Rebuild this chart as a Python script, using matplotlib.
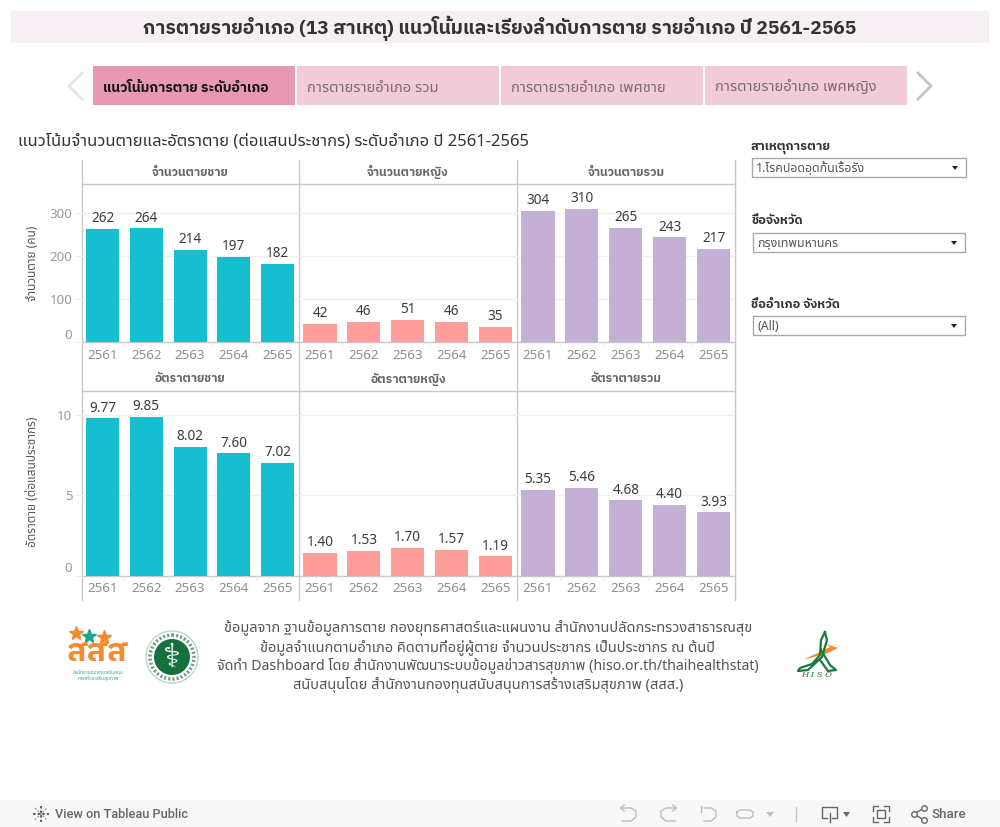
import matplotlib
matplotlib.use('Agg')
import matplotlib.pyplot as plt
from matplotlib.patches import Rectangle, Circle, Polygon

REGULAR = ['Noto Sans Thai', 'Noto Sans', 'DejaVu Sans']
BOLD = ['IBM Plex Sans Thai', 'DejaVu Sans']
plt.rcParams['font.family'] = REGULAR

years = ['2561', '2562', '2563', '2564', '2565']
male_deaths = [262, 264, 214, 197, 182]
female_deaths = [42, 46, 51, 46, 35]
total_deaths = [304, 310, 265, 243, 217]
male_rate = [9.77, 9.85, 8.02, 7.60, 7.02]
female_rate = [1.40, 1.53, 1.70, 1.57, 1.19]
total_rate = [5.35, 5.46, 4.68, 4.40, 3.93]

top_headers = ['จำนวนตายชาย', 'จำนวนตายหญิง', 'จำนวนตายรวม']
bottom_headers = ['อัตราตายชาย', 'อัตราตายหญิง', 'อัตราตายรวม']
tabs = ['แนวโน้มการตาย ระดับอำเภอ', 'การตายรายอำเภอ รวม', 'การตายรายอำเภอ เพศชาย', 'การตายรายอำเภอ เพศหญิง']
footer = ['ข้อมูลจาก ฐานข้อมูลการตาย กองยุทธศาสตร์และแผนงาน สำนักงานปลัดกระทรวงสาธารณสุข',
          'ข้อมูลจำแนกตามอำเภอ คิดตามที่อยู่ผู้ตาย จำนวนประชากร เป็นประชากร ณ ต้นปี',
          'จัดทำ Dashboard โดย สำนักงานพัฒนาระบบข้อมูลข่าวสารสุขภาพ (hiso.or.th/thaihealthstat)',
          'สนับสนุนโดย สำนักงานกองทุนสนับสนุนการสร้างเสริมสุขภาพ (สสส.)']
footer_sizes = [10.5, 10.5, 10.2, 10.5]

TEAL = '#17becf'
PINK = '#ff9d9a'
PURPLE = '#c4afd5'
LINE = '#c8c8c8'

W = 1000
H = 827
fig = plt.figure(figsize=(W / 100, H / 100), dpi=100)

# page furniture, in pixels
bg = fig.add_axes([0, 0, 1, 1])
bg.set_xlim(0, W)
bg.set_ylim(H, 0)
bg.axis('off')


def box(x0, y0, x1, y1, color, edge='none'):
    bg.add_patch(Rectangle((x0, y0), x1 - x0, y1 - y0, fc=color, ec=edge, lw=1))


def panel(x0, x1, y0, y1, values, ymax, yticks, color, fmt, show_y):
    ax = fig.add_axes([x0 / W, 1 - y1 / H, (x1 - x0) / W, (y1 - y0) / H])
    ax.patch.set_alpha(0)
    ax.bar(range(5), values, width=0.755, color=color, zorder=3)
    ax.set_xlim(-0.48, 4.49)
    ax.set_ylim(0, ymax)
    for s in ax.spines.values():
        s.set_visible(False)
    ax.set_yticks(yticks)
    ax.grid(axis='y', color='#f0f0f0', lw=1, zorder=0)
    ax.set_axisbelow(True)
    ax.set_xticks(range(5), years, fontsize=9.6, color='#8f8f8f')
    ax.set_xticks([0.5, 1.5, 2.5, 3.5], minor=True)
    ax.tick_params(axis='x', which='major', length=0, pad=5)
    ax.tick_params(axis='x', which='minor', length=3, color='#ececec')
    if show_y:
        ax.tick_params(axis='y', length=5, color='#ececec', labelsize=9.6, labelcolor='#9a9a9a', pad=1.5)
        ax.get_yticklabels()[0].set_va('bottom')
    else:
        ax.tick_params(axis='y', length=0, labelleft=False)
    for i, v in enumerate(values):
        ax.annotate(fmt % v, (i, v), xytext=(0, 2), textcoords='offset points', ha='center', va='bottom',
                    fontsize=9.8, color='#3c3c3c', zorder=4)
    return ax


# title band
box(11, 11, 989, 43, '#f6f0f5')
bg.text(500, 28, 'การตายรายอำเภอ (13 สาเหตุ) แนวโน้มและเรียงลำดับการตาย รายอำเภอ ปี 2561-2565',
        ha='center', va='center', fontsize=13.85, family=BOLD, fontweight='bold', color='#333333')

# tab strip
tab_x = [93, 297, 501, 705]
for i, label in enumerate(tabs):
    box(tab_x[i], 66, tab_x[i] + 202, 105, '#e798b3' if i == 0 else '#f2cbd9')
    if i == 0:
        bg.text(tab_x[i] + 10, 88, label, va='center', fontsize=10, family=BOLD, fontweight='bold', color='#111111')
    else:
        bg.text(tab_x[i] + 10, 88, label, va='center', fontsize=10.6, color='#7d6870')
bg.plot([82, 69, 82], [73, 86, 99], color='#e6e6e6', lw=2)
bg.plot([918, 931, 918], [73, 86, 99], color='#c4c4c4', lw=2)

bg.text(18, 141, 'แนวโน้มจำนวนตายและอัตราตาย (ต่อแสนประชากร) ระดับอำเภอ ปี 2561-2565',
        va='center', fontsize=11.95, color='#333333')

# filters on the right
filters = [('สาเหตุการตาย', '1.โรคปอดอุดกั้นเรื้อรัง', 147, 752, 966, 158),
           ('ชื่อจังหวัด', 'กรุงเทพมหานคร', 221, 753, 965, 233),
           ('ชื่ออำเภอ จังหวัด', '(All)', 304, 753, 965, 316)]
for title, value, ty, bx0, bx1, by in filters:
    bg.text(751, ty, title, va='center', fontsize=9.2, family=BOLD, fontweight='bold', color='#333333')
    box(bx0, by, bx1, by + 19, 'white', edge='#a9a9a9')
    bg.text(bx0 + 4, by + 10, value, va='center', fontsize=8.9, color='#555555')
    bg.add_patch(Polygon([(bx1 - 14, by + 8), (bx1 - 8, by + 8), (bx1 - 11, by + 12)], fc='#222222'))

# chart panels
cols = [(81.5, 299), (299, 517), (517, 735)]
colors = [TEAL, PINK, PURPLE]
top_values = [male_deaths, female_deaths, total_deaths]
bottom_values = [male_rate, female_rate, total_rate]
for i in range(3):
    x0, x1 = cols[i]
    panel(x0, x1, 184, 342, top_values[i], 367, [0, 100, 200, 300], colors[i], '%d', i == 0)
    panel(x0, x1, 391, 575.5, bottom_values[i], 11.48, [0, 5, 10], colors[i], '%.2f', i == 0)
    bg.text((x0 + x1) / 2, 172, top_headers[i], ha='center', va='center', fontsize=8.7, family=BOLD, fontweight='bold', color='#666666')
    bg.text((x0 + x1) / 2, 379, bottom_headers[i], ha='center', va='center', fontsize=8.7, family=BOLD, fontweight='bold', color='#666666')

for x in [81.5, 299, 517, 735]:
    bg.plot([x, x], [160, 600], color=LINE, lw=1)
for y in [184, 342, 391, 575.5]:
    bg.plot([81.5, 735], [y, y], color=LINE, lw=1)

bg.text(32, 263, 'จำนวนตาย (คน)', rotation=90, ha='center', va='center', fontsize=8.5, color='#555555')
bg.text(32, 482, 'อัตราตาย (ต่อแสนประชากร)', rotation=90, ha='center', va='center', fontsize=8.5, color='#555555')

# footer note
for i, line in enumerate(footer):
    bg.text(488, 628 + i * 19, line, ha='center', va='center', fontsize=footer_sizes[i], color='#555555')

# logos, roughly
bg.text(98, 652.5, 'สสส', ha='center', va='center', fontsize=23, family=BOLD, fontweight='bold', color='#f58a2e')
bg.plot([76, 104], [633, 637], ls='none', marker='*', ms=10, color='#f58a2e')
bg.plot([89], [636], ls='none', marker='*', ms=10, color='#1fa58f')
bg.text(98, 672.5, 'สำนักงานกองทุนสนับสนุน', ha='center', va='center', fontsize=3.6, color='#3aa890')
bg.text(98, 678.5, 'การสร้างเสริมสุขภาพ', ha='center', va='center', fontsize=3.6, color='#3aa890')
bg.add_patch(Circle((172, 657), 26, fc='white', ec='#bcd6c6', lw=1))
bg.add_patch(Circle((172, 657), 22, fc='none', ec='#6f9f82', lw=2.5, ls=(0, (0.6, 0.6))))
bg.add_patch(Circle((172, 657), 18, fc='#14703d', ec='none'))
bg.text(172, 657, '⚕', ha='center', va='center', fontsize=24, color='white', family='DejaVu Sans')
bg.plot([825, 821, 820, 812, 800, 798, 808, 822, 827, 825], [632, 640, 655, 664, 668, 671, 670, 657, 640, 632], color='#1a7a3c', lw=1.6)
bg.plot([821, 830, 836, 828, 820], [650, 665, 670, 671, 660], color='#1a7a3c', lw=1.6)
bg.add_patch(Polygon([(803, 660), (830, 647), (826, 644), (838, 648), (828, 653)], fc='#f58a2e'))
bg.text(817, 675, 'H I S O', ha='center', va='center', fontsize=6, style='italic', family='DejaVu Serif', color='#1a7a3c')

# toolbar
box(0, 800, 1000, 827, '#f7f7f7')
bg.plot([41, 41], [806, 822], color='#666666', lw=1.5, ls=(0, (1.2, 1)))
bg.plot([33, 49], [814, 814], color='#666666', lw=1.5, ls=(0, (1.2, 1)))
bg.plot([35, 47], [808, 820], color='#999999', lw=1, ls=(0, (1.2, 1.4)))
bg.plot([35, 47], [820, 808], color='#999999', lw=1, ls=(0, (1.2, 1.4)))
bg.text(55, 814, 'View on Tableau Public', va='center', fontsize=9.2, family='Roboto', fontweight='medium', color='#666666')
bg.plot([621, 631, 636, 636, 631, 622], [808, 808, 811, 817, 821, 821], color='#bdbdbd', lw=1)
bg.plot([621, 624], [808, 805], color='#bdbdbd', lw=1)
bg.plot([621, 624], [808, 811], color='#bdbdbd', lw=1)
bg.plot([676, 666, 661, 661, 666, 675], [808, 808, 811, 817, 821, 821], color='#bdbdbd', lw=1)
bg.plot([676, 673], [808, 805], color='#bdbdbd', lw=1)
bg.plot([676, 673], [808, 811], color='#bdbdbd', lw=1)
bg.plot([701, 701], [806, 812], color='#bdbdbd', lw=1)
bg.plot([704, 711, 716, 716, 711, 704], [808, 808, 811, 817, 821, 821], color='#bdbdbd', lw=1)
bg.plot([737, 737, 740, 750, 753, 753, 750, 740, 737], [812, 816, 818, 818, 816, 812, 810, 810, 812], color='#bdbdbd', lw=1)
bg.add_patch(Polygon([(766, 812), (774, 812), (770, 817)], fc='#bdbdbd'))
bg.plot([795.5, 795.5], [807, 821], color='#c4c4c4', lw=1)
bg.plot([827, 822, 822, 837, 837, 832], [818, 818, 807, 807, 818, 818], color='#666666', lw=1)
bg.plot([829.5, 829.5], [813, 822], color='#666666', lw=1)
bg.add_patch(Polygon([(843, 812), (850, 812), (846.5, 817)], fc='#666666'))
bg.plot([873, 873, 878], [811, 806, 806], color='#666666', lw=1)
bg.plot([884, 889, 889], [806, 806, 811], color='#666666', lw=1)
bg.plot([889, 889, 884], [817, 822, 822], color='#666666', lw=1)
bg.plot([878, 873, 873], [822, 822, 817], color='#666666', lw=1)
box(877, 810, 885, 818, 'none', edge='#666666')
bg.plot([924, 914, 924], [808, 814, 820], color='#666666', lw=1, marker='o', mfc='white', ms=4)
bg.text(932, 814, 'Share', va='center', fontsize=9.6, family='Roboto', fontweight='medium', color='#666666')

fig.savefig('out.png', dpi=100)
